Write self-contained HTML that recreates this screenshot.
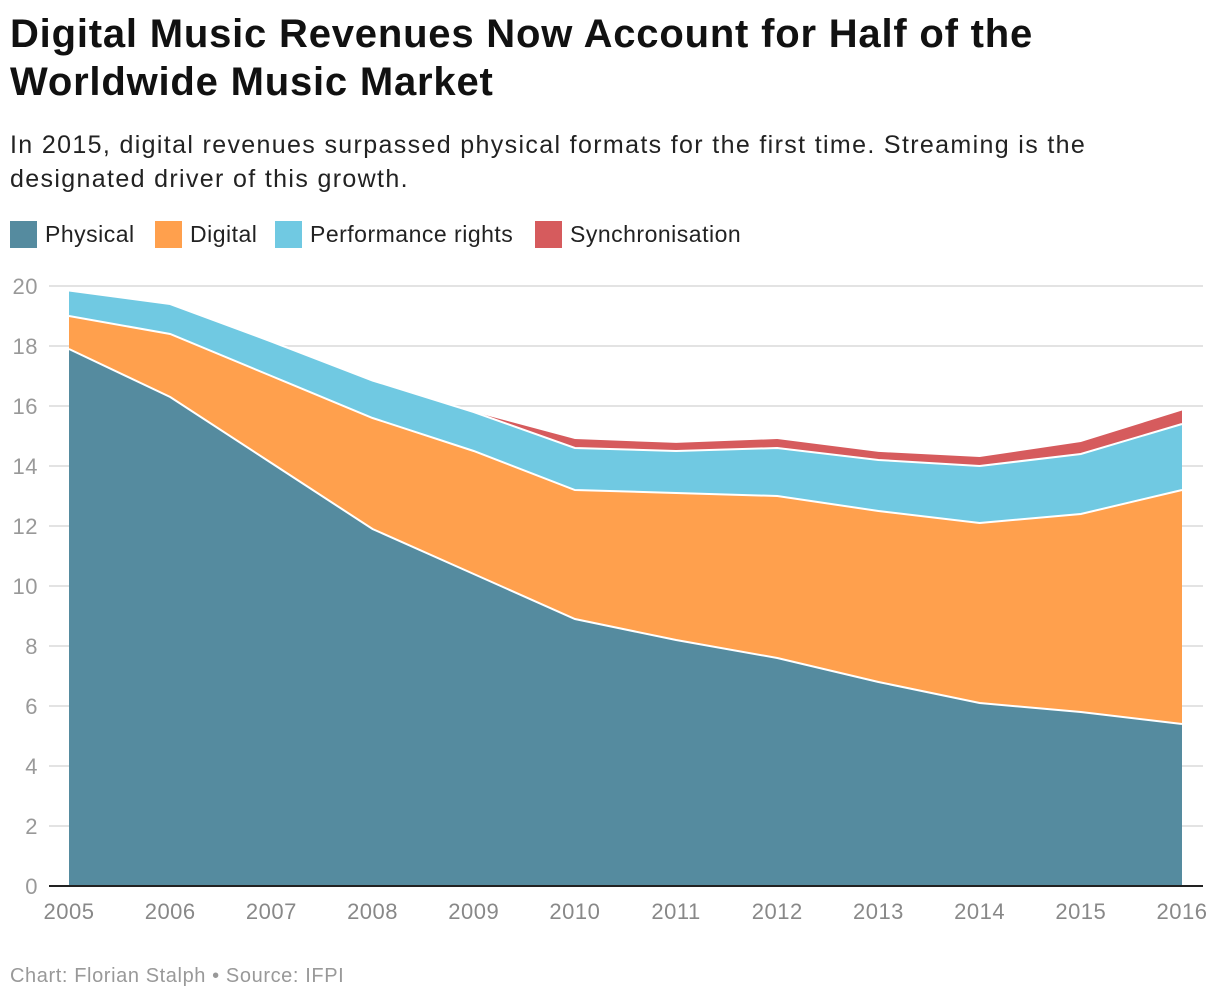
<!DOCTYPE html>
<html><head><meta charset="utf-8"><style>
body{margin:0;background:#fff;font-family:"Liberation Sans",Arial,sans-serif;}
#wrap{position:relative;width:1220px;height:1004px;overflow:hidden;}
h1{position:absolute;left:10px;top:10px;margin:0;font-size:40px;line-height:48px;font-weight:bold;color:#111;letter-spacing:0.8px;white-space:nowrap;}
.sub{position:absolute;left:10px;top:128px;font-size:25px;line-height:34px;color:#222;letter-spacing:1.35px;white-space:nowrap;}
.li{position:absolute;top:221px;display:flex;align-items:center;font-size:23px;color:#222;letter-spacing:0.5px;white-space:nowrap;}
.sw{width:27px;height:27px;margin-right:8px;}
.foot{position:absolute;left:10px;top:965px;font-size:20px;color:#999;letter-spacing:0.6px;}
svg{position:absolute;left:0;top:0;}
</style></head><body>
<div id="wrap">
<h1>Digital Music Revenues Now Account for Half of the<br>Worldwide Music Market</h1>
<div class="sub">In 2015, digital revenues surpassed physical formats for the first time. Streaming is the<br>designated driver of this growth.</div>
<div>
<div class="li" style="left:10px"><div class="sw" style="background:#558b9f"></div>Physical</div>
<div class="li" style="left:155px"><div class="sw" style="background:#ffa04d"></div>Digital</div>
<div class="li" style="left:275px"><div class="sw" style="background:#70c9e2"></div>Performance rights</div>
<div class="li" style="left:535px"><div class="sw" style="background:#d65b5d"></div>Synchronisation</div>
</div>
<svg id="svg" width="1220" height="1004"></svg>
<div class="foot">Chart: Florian Stalph • Source: IFPI</div>
</div>
<script>
const years=[2005,2006,2007,2008,2009,2010,2011,2012,2013,2014,2015,2016];
const physical=[17.9,16.3,14.1,11.9,10.4,8.9,8.2,7.6,6.8,6.1,5.8,5.4];
const digital=[1.1,2.1,2.9,3.7,4.1,4.3,4.9,5.4,5.7,6.0,6.6,7.8];
const performance=[0.85,1.0,1.15,1.25,1.3,1.4,1.4,1.6,1.7,1.9,2.0,2.2];
const sync=[0,0,0,0,0,0.3,0.27,0.3,0.27,0.3,0.4,0.45];
const yTicks=[0,2,4,6,8,10,12,14,16,18,20];
const NS="http://www.w3.org/2000/svg";
const svg=document.getElementById('svg');
const x0=69,x1=1182,yb=886,yt=286;
const xs=i=>x0+(x1-x0)*i/(years.length-1);
const ys=v=>yb-(yb-yt)*v/20;
function mk(t,a){const e=document.createElementNS(NS,t);for(const k in a)e.setAttribute(k,a[k]);svg.appendChild(e);return e;}
yTicks.forEach(t=>{
  if(t>0){const g=mk('line',{x1:49,x2:1203,y1:ys(t),y2:ys(t),stroke:'#e3e3e3','stroke-width':2});
  
  }
  const l=mk('text',{x:38,y:ys(t)+8,'text-anchor':'end','font-size':22,fill:'#999','letter-spacing':0.5});
  l.textContent=t;
  
  
});
const series=[[physical,'#558b9f','area-physical'],[digital,'#ffa04d','area-digital'],[performance,'#70c9e2','area-performance-rights'],[sync,'#d65b5d','area-synchronisation']];
let base=years.map(()=>0);
series.forEach(([vals,col,name])=>{
  const top=base.map((b,i)=>b+vals[i]);
  let d='M'+years.map((_,i)=>xs(i)+','+ys(top[i])).join('L');
  for(let i=years.length-1;i>=0;i--)d+='L'+xs(i)+','+ys(base[i]);
  const p=mk('path',{d:d+'Z',fill:col});
  
  
  base=top;
});
base=years.map(()=>0);
series.slice(0,3).forEach(([vals])=>{
  const top=base.map((b,i)=>b+vals[i]);
  const l=mk('polyline',{points:years.map((_,i)=>xs(i)+','+ys(top[i])).join(' '),fill:'none',stroke:'#fff','stroke-width':2});
  
  
  base=top;
});
const ax=mk('line',{x1:49,x2:1203,y1:yb,y2:yb,stroke:'#222','stroke-width':2});


years.forEach((y,i)=>{
  const t=mk('text',{x:xs(i),y:919,'text-anchor':'middle','font-size':22,fill:'#888','letter-spacing':0.5});
  t.textContent=y;
  
  
});
</script>
</body></html>
